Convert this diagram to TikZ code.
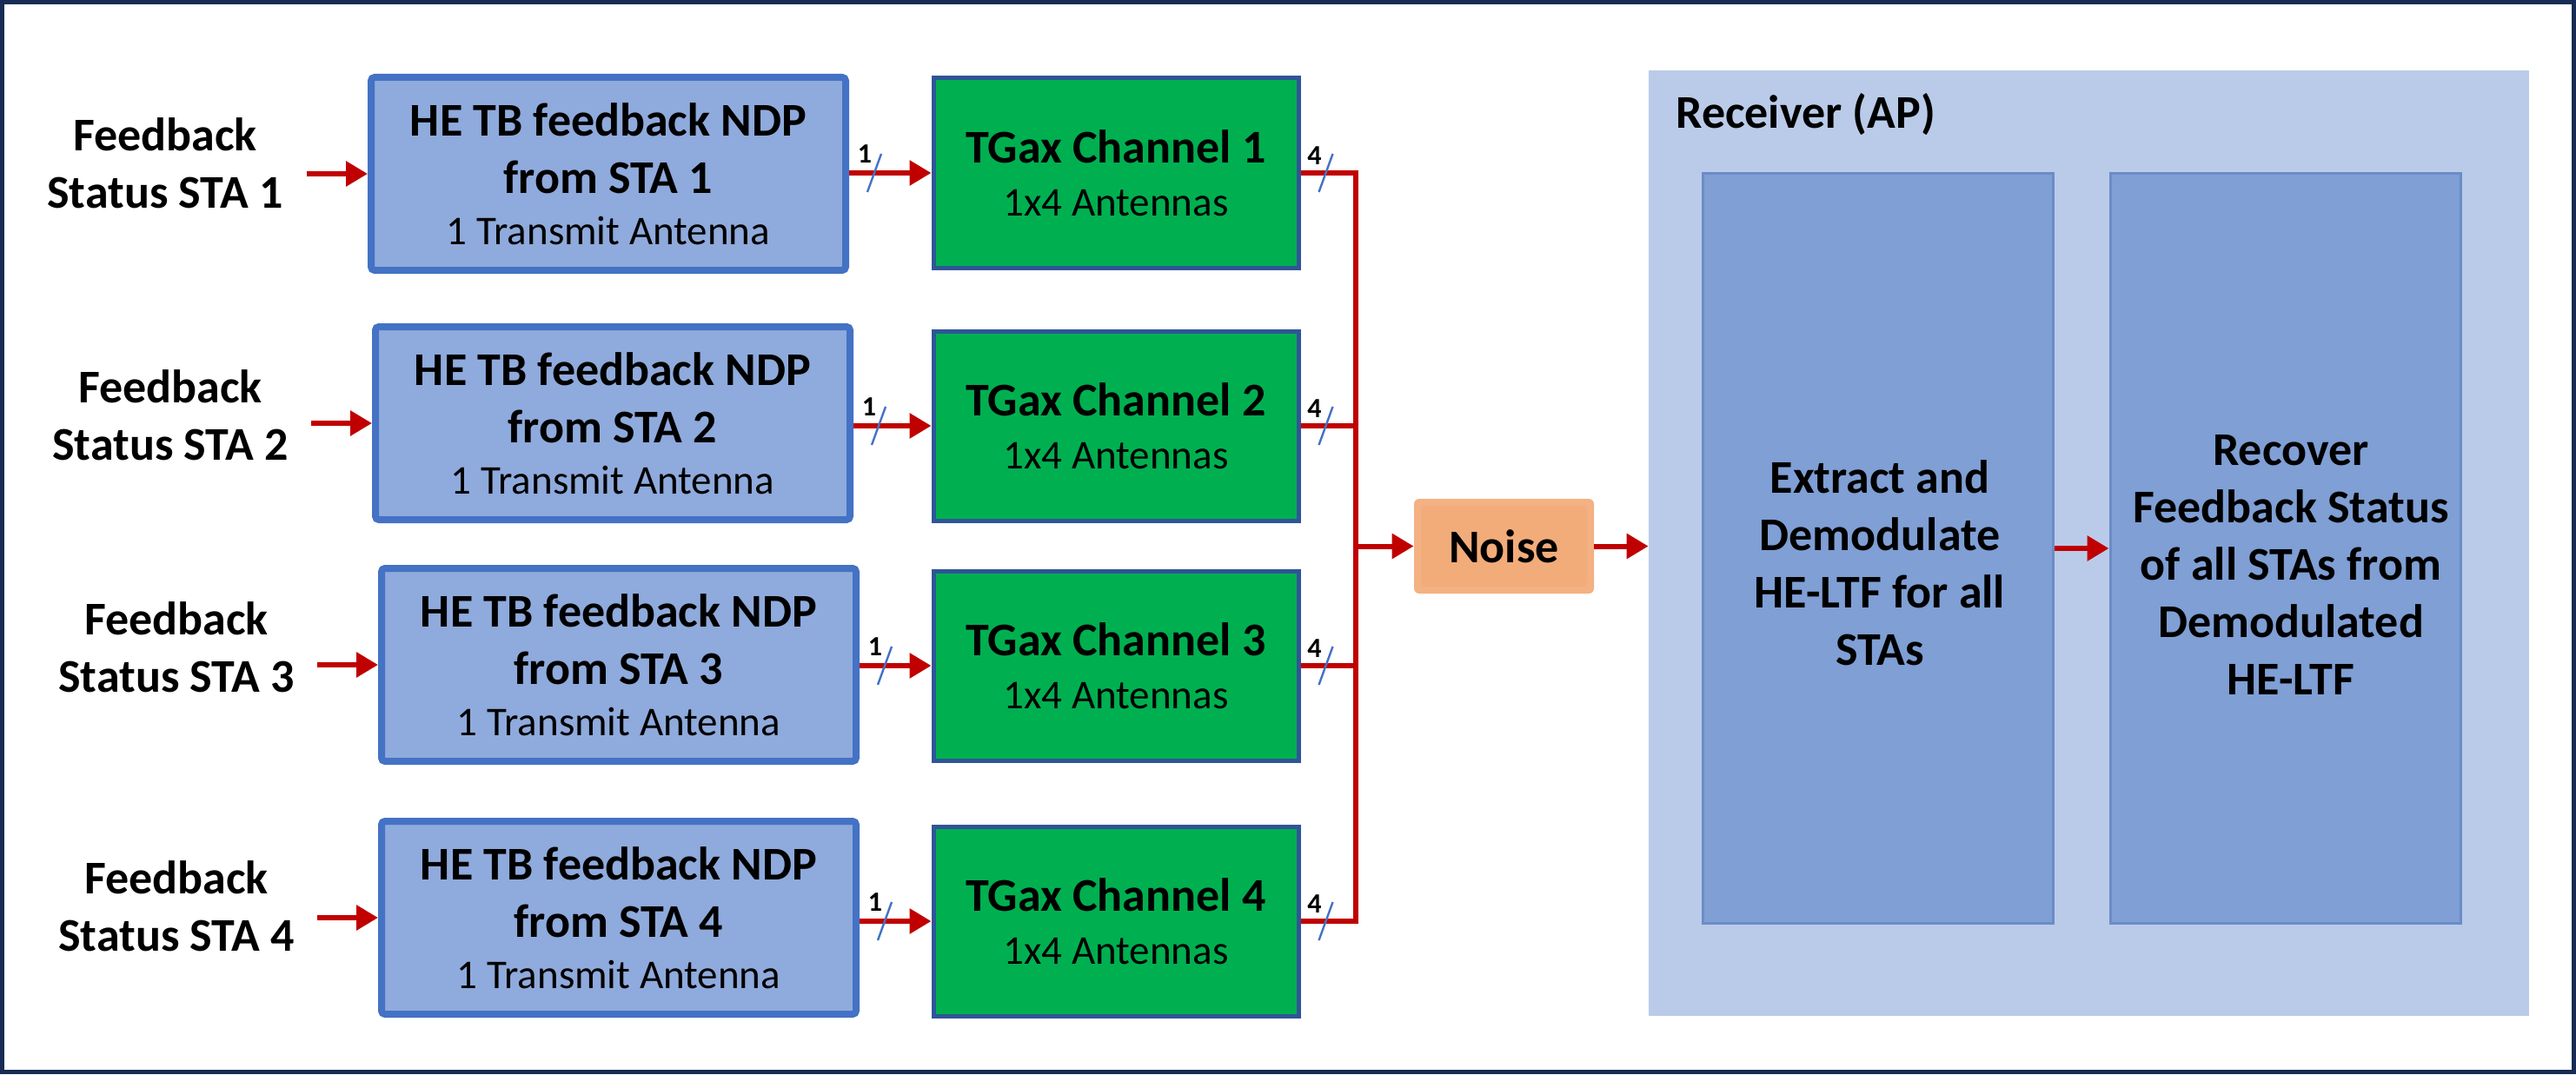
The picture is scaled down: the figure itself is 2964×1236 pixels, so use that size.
\documentclass[tikz,border=0pt]{standalone}
\usepackage{fontspec}
\setmainfont{Carlito}
\usetikzlibrary{arrows.meta,calc}
\definecolor{navy}{HTML}{172B54}
\definecolor{bfill}{HTML}{8FAADC}
\definecolor{bdraw}{HTML}{4472C4}
\definecolor{gfill}{HTML}{00B050}
\definecolor{gdraw}{HTML}{2F5597}
\definecolor{nout}{HTML}{F4B183}
\definecolor{nin}{HTML}{F2AC7A}
\definecolor{rxfill}{HTML}{BACBE9}
\definecolor{infill}{HTML}{7F9FD5}
\definecolor{indraw}{HTML}{6B8CC6}
\definecolor{arrred}{HTML}{C00000}
\newcommand\myBig{\fontsize{27}{33}\selectfont\bfseries}
\newcommand\mySub{\fontsize{23.5}{29}\selectfont\mdseries}
\newcommand\myTiny{\fontsize{16}{19}\selectfont\bfseries}
\begin{document}
\begin{tikzpicture}[x=0.5pt,y=-0.5pt,
  redarrow/.style={draw=arrred, line width=3pt, -{Triangle[length=12.5pt,width=14pt]}},
  redline/.style={draw=arrred, line width=3pt, line join=miter},
  slashline/.style={draw=bdraw, line width=1.2pt},
  fbtext/.style={align=center, font=\myBig, inner sep=0pt},
  bluebox/.style={draw=bdraw, fill=bfill, line width=4pt, rounded corners=2pt,
    minimum width=273pt, minimum height=111pt, align=center, font=\myBig, inner sep=0pt},
  greenbox/.style={draw=gdraw, fill=gfill, line width=2.5pt,
    minimum width=210pt, minimum height=109pt, align=center, font=\myBig, inner sep=0pt},
  tinylbl/.style={font=\myTiny, inner sep=0pt},
  noisebox/.style={fill=nout, rounded corners=3pt, minimum width=103.5pt, minimum height=54.5pt,
    font=\myBig, inner sep=0pt,
    path picture={\fill[nin] ([shift={(4pt,-4pt)}]path picture bounding box.north west)
      rectangle ([shift={(-4pt,4pt)}]path picture bounding box.south east);}},
  rxbox/.style={fill=rxfill, minimum width=506.5pt, minimum height=544pt, inner sep=0pt},
  innerbox/.style={fill=infill, draw=indraw, line width=1.5pt,
    minimum width=201.5pt, minimum height=431.5pt, inner sep=0pt},
  innertext/.style={align=center, font=\myBig, inner sep=0pt}
]
\useasboundingbox (0,0) rectangle (2964,1236);
\fill[white] (0,0) rectangle (2964,1236);

% receiver
\node[rxbox] (rx) at (2403.5,625) {};
\node[font=\myBig, anchor=base west, inner sep=0pt] (rxlbl) at (1928,148) {Receiver (AP)};
\node[innerbox] (in1) at (2161,631) {};
\node[innerbox] (in2) at (2629.5,631) {};
\node[innertext] (t1) at (2163,648) {Extract and\\Demodulate\\HE-LTF for all\\STAs};
\node[innertext] (t2) at (2636,650) {Recover\\Feedback Status\\of all STAs from\\Demodulated\\HE-LTF};
\draw[redarrow] (in1.east) -- (in2.west);

\coordinate (bus) at (1560,630);

\foreach \i/\fx/\fy/\bx/\by/\gy in {1/190/188/700/200/199, 2/196/478/705/487/490, 3/203/745/712/765/766, 4/203/1043/712/1056/1060}{
  \node[fbtext] (fb\i) at (\fx,\fy) {Feedback\\Status STA \i};
  \node[bluebox] (b\i) at (\bx,\by) {HE TB feedback NDP\\from STA \i\\[-3.5pt]{\mySub 1 Transmit Antenna}};
  \node[greenbox] (g\i) at (1284,\gy) {TGax Channel \i\\[-2.5pt]{\mySub 1x4 Antennas}};
  \coordinate (s\i) at ($(b\i.west)+(-70,0)$);
  \draw[redarrow] (s\i) -- (b\i.west);
  \draw[redarrow] (b\i.east |- g\i.west) -- (g\i.west);
}

\draw[redline] (g1.east) -- (g1.east -| bus) -- (g4.east -| bus) -- (g4.east);
\draw[redline] (g2.east) -- (g2.east -| bus);
\draw[redline] (g3.east) -- (g3.east -| bus);

\foreach \i in {1,2,3,4}{
  \draw[slashline] ($(b\i.east |- g\i.west)+(21,22)$) -- ++(16,-44);
  \node[tinylbl] (one\i) at ($(b\i.east |- g\i.west)+(18,-22)$) {1};
  \draw[slashline] ($(g\i.east)+(21,22)$) -- ++(16,-44);
  \node[tinylbl] (four\i) at ($(g\i.east)+(16,-20)$) {4};
}

\node[noisebox] (noise) at (1730.5,628.5) {Noise};
\draw[redarrow] (noise.west -| bus) -- (noise.west);
\draw[redarrow] (noise.east) -- (noise.east -| rx.west);

\draw[navy, line width=2.5pt] (2.5,2.5) rectangle (2961.5,1233.5);
\end{tikzpicture}
\end{document}
